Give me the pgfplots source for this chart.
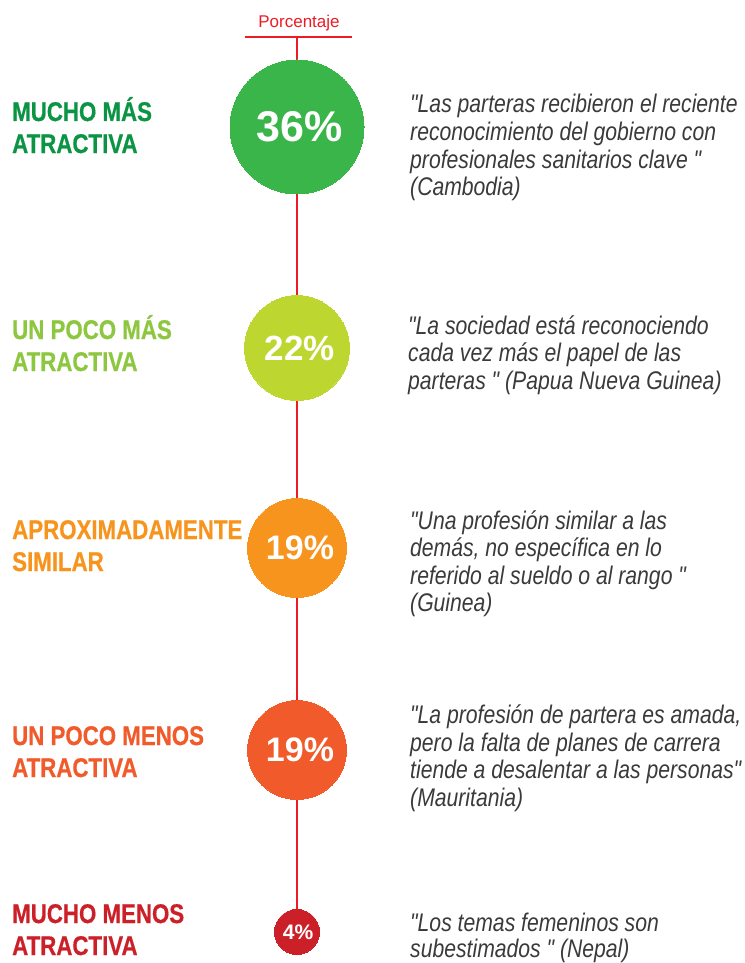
\documentclass[border=0pt]{standalone}
\usepackage{pgfplots}
\pgfplotsset{compat=1.18}
\usepackage{fontspec}
\setmainfont{Liberation Sans}
\newfontfamily\narrowb[FakeStretch=0.825,FakeBold=0.6]{Liberation Sans}
\newfontfamily\narrow[FakeStretch=0.83]{Liberation Sans}
\definecolor{lred}{HTML}{ED1C24}
\definecolor{c1}{HTML}{3AB54A}
\definecolor{l1}{HTML}{0B9444}
\definecolor{c2}{HTML}{BED630}
\definecolor{l2}{HTML}{8DC63F}
\definecolor{c3}{HTML}{F7941E}
\definecolor{c4}{HTML}{F15A2B}
\definecolor{c5}{HTML}{CC2029}
\definecolor{qg}{HTML}{3A3A3A}
\newcommand\lab[4]{\node[anchor=base west,inner sep=0pt,text=#1,font=\narrowb\bfseries\fontsize{27bp}{32bp}\selectfont] at (axis cs:12,#2) {#3};
\node[anchor=base west,inner sep=0pt,text=#1,font=\narrowb\bfseries\fontsize{27bp}{32bp}\selectfont] at (axis cs:12,#2+32) {#4};}
\newcommand\ql[3]{\node[anchor=base west,inner sep=0pt,text=qg,font=\narrow\itshape\fontsize{25.5bp}{28bp}\selectfont] at (axis cs:#1,#2) {#3};}
\pgfplotsset{circ/.style={only marks, mark=*, color=#1, mark options={draw=#1, fill=#1, line width=0pt},
   nodes near coords, point meta=explicit symbolic,
   every node near coord/.append style={anchor=center, text=white, inner sep=0pt, xshift=3bp}}}
\begin{document}
\begin{tikzpicture}
\useasboundingbox (0,0) rectangle (745bp,963bp);
\begin{axis}[
  at={(0,0)}, anchor=south west,
  scale only axis, width=745bp, height=963bp,
  xmin=0, xmax=745, ymin=0, ymax=963, y dir=reverse,
  hide axis, clip=false]
% vertical connector and header rule
\addplot[lred, line width=1.5bp] coordinates {(297,37) (297,912)};
\addplot[lred, line width=1.5bp] coordinates {(245,37) (352,37)};
% circles (radius ~ 11.2*sqrt(percent)), labelled with the percentage
\addplot[circ=c1, mark size=67bp, every node near coord/.append style={font=\bfseries\fontsize{43bp}{46bp}\selectfont}] coordinates {(297,127) [36\%]};
\addplot[circ=c2, mark size=52.5bp, every node near coord/.append style={font=\bfseries\fontsize{35bp}{38bp}\selectfont}] coordinates {(297,348) [22\%]};
\addplot[circ=c3, mark size=49.5bp, every node near coord/.append style={font=\bfseries\fontsize{34bp}{38bp}\selectfont}] coordinates {(297,548) [19\%]};
\addplot[circ=c4, mark size=49.5bp, every node near coord/.append style={font=\bfseries\fontsize{34bp}{38bp}\selectfont}] coordinates {(297,750) [19\%]};
\addplot[circ=c5, mark size=22.5bp, every node near coord/.append style={font=\bfseries\fontsize{21bp}{22bp}\selectfont, xshift=-2bp}] coordinates {(297,932) [4\%]};
% header
\node[anchor=base, inner sep=0pt, text=lred, font=\fontsize{17bp}{20bp}\selectfont] at (axis cs:299,28) {Porcentaje};
% labels
\lab{l1}{121}{MUCHO MÁS}{ATRACTIVA}
\lab{l2}{339}{UN POCO MÁS}{ATRACTIVA}
\lab{c3}{539}{APROXIMADAMENTE}{SIMILAR}
\lab{c4}{745}{UN POCO MENOS}{ATRACTIVA}
\lab{c5}{923}{MUCHO MENOS}{ATRACTIVA}
% quotes
\ql{410}{113}{"Las parteras recibieron el reciente}
\ql{410}{141}{reconocimiento del gobierno con}
\ql{410}{168}{profesionales sanitarios clave "}
\ql{410}{196}{(Cambodia)}
\ql{408}{334}{"La sociedad está reconociendo}
\ql{408}{361}{cada vez más el papel de las}
\ql{408}{389}{parteras " (Papua Nueva Guinea)}
\ql{410}{529}{"Una profesión similar a las}
\ql{410}{556}{demás, no específica en lo}
\ql{410}{584}{referido al sueldo o al rango "}
\ql{410}{611}{(Guinea)}
\ql{410}{723}{"La profesión de partera es amada,}
\ql{410}{751}{pero la falta de planes de carrera}
\ql{410}{778}{tiende a desalentar a las personas"}
\ql{410}{806}{(Mauritania)}
\ql{410}{931}{"Los temas femeninos son}
\ql{410}{957}{subestimados " (Nepal)}
\end{axis}
\end{tikzpicture}
\end{document}
